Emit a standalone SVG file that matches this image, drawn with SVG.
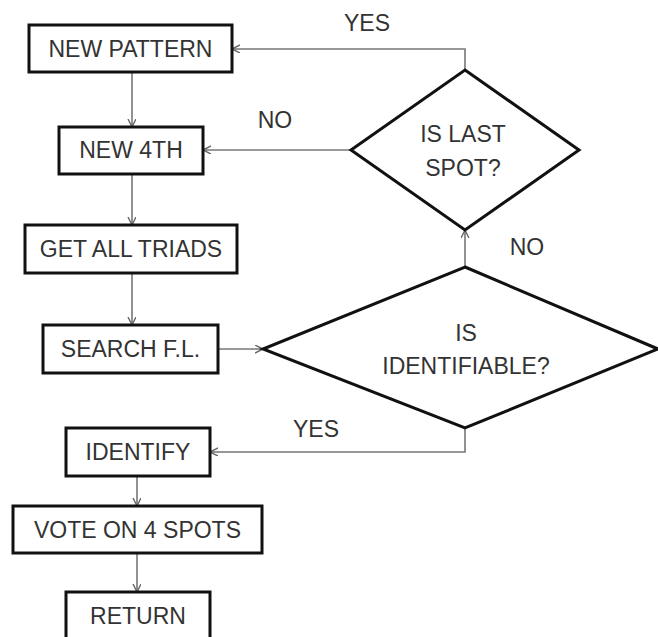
<svg xmlns="http://www.w3.org/2000/svg" width="658" height="637" viewBox="0 0 658 637">
<defs>
<marker id="arr" markerUnits="userSpaceOnUse" markerWidth="10" markerHeight="10" refX="8" refY="4" orient="auto">
<path d="M0,0 L8,4 L0,8" fill="none" stroke="#666" stroke-width="1.4"/>
</marker>
<style>
.box{fill:#fff;stroke:#111;stroke-width:3}
.dia{fill:#fff;stroke:#111;stroke-width:3;stroke-linejoin:miter}
.t{font-family:"Liberation Sans",Arial,sans-serif;font-size:23px;fill:#333;text-anchor:middle}
.c{fill:none;stroke:#777;stroke-width:1.6;marker-end:url(#arr)}
</style>
</defs>
<rect width="658" height="637" fill="#fff"/>
<g id="connectors">
<path class="c" d="M132,72 V127"/>
<path class="c" d="M132,174 V225"/>
<path class="c" d="M132,273 V325"/>
<path class="c" d="M218,349 H263"/>
<path class="c" d="M465,267 V230"/>
<path class="c" d="M351,150 H203"/>
<path class="c" d="M465,70 V49 H232"/>
<path class="c" d="M465,428 V452 H210"/>
<path class="c" d="M137,476 V506"/>
<path class="c" d="M137,553 V592"/>
<text class="t" x="367" y="31">YES</text>
<text class="t" x="275" y="128">NO</text>
<text class="t" x="527" y="255">NO</text>
<text class="t" x="316" y="437">YES</text>
</g>
<g id="new-pattern"><rect class="box" x="29" y="25" width="203" height="47"/><text class="t" x="130.5" y="57">NEW PATTERN</text></g>
<g id="new-4th"><rect class="box" x="59" y="127" width="144" height="47"/><text class="t" x="131" y="158">NEW 4TH</text></g>
<g id="get-all-triads"><rect class="box" x="25" y="225" width="212" height="48"/><text class="t" x="131" y="257">GET ALL TRIADS</text></g>
<g id="search-fl"><rect class="box" x="43" y="325" width="175" height="48"/><text class="t" x="130.5" y="357">SEARCH F.L.</text></g>
<g id="is-last-spot"><polygon class="dia" points="465,70 579,150 465,230 351,150"/><text class="t" x="463" y="142">IS LAST</text><text class="t" x="463" y="176">SPOT?</text></g>
<g id="is-identifiable"><polygon class="dia" points="465,267 658,349 465,428 263,349"/><text class="t" x="466" y="341">IS</text><text class="t" x="466" y="374">IDENTIFIABLE?</text></g>
<g id="identify"><rect class="box" x="66" y="428" width="144" height="48"/><text class="t" x="138" y="460">IDENTIFY</text></g>
<g id="vote"><rect class="box" x="13" y="506" width="249" height="47"/><text class="t" x="137.5" y="538">VOTE ON 4 SPOTS</text></g>
<g id="return"><rect class="box" x="66" y="592" width="144" height="50"/><text class="t" x="138" y="624">RETURN</text></g>
</svg>
